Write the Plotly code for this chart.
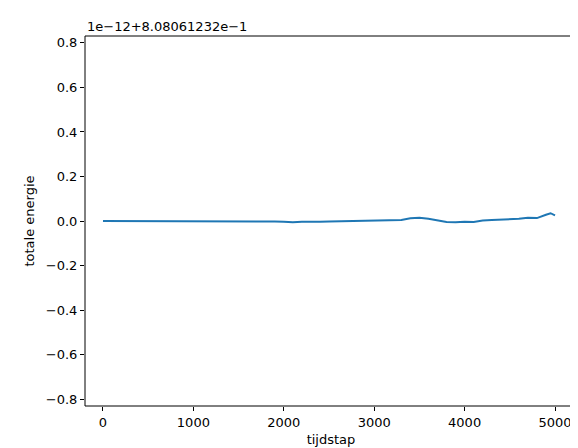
import plotly.graph_objects as go

# tijdstap samples and energy deviation (units of 1e-12 around 8.08061232e-1)
tijdstap = [0, 100, 200, 300, 400, 500, 600, 700, 800, 900, 1000, 1100, 1200, 1300, 1400,
            1500, 1600, 1700, 1800, 1900, 2000, 2100, 2200, 2300, 2400, 2500, 2600, 2700,
            2800, 2900, 3000, 3100, 3200, 3300, 3400, 3500, 3600, 3700, 3800, 3900, 4000,
            4100, 4200, 4300, 4400, 4500, 4600, 4700, 4800, 4900, 4950, 5000]
energie = [0.0, 0.0, 0.0, 0.0, 0.001, 0.0, 0.0, 0.0, 0.001, 0.0, 0.0, 0.0, -0.001, 0.0,
           0.0, -0.001, 0.0, 0.0, -0.001, -0.002, -0.003, -0.006, -0.003, -0.004, -0.003,
           -0.002, -0.001, 0.001, 0.003, 0.004, 0.005, 0.004, 0.006, 0.005, 0.012, 0.015,
           0.01, 0.004, -0.004, -0.006, -0.003, -0.004, 0.002, 0.004, 0.006, 0.005, 0.01,
           0.015, 0.013, 0.028, 0.035, 0.025]

fig = go.Figure(go.Scatter(x=tijdstap, y=energie, mode="lines",
                           line=dict(color="#1f77b4", width=2)))

axis_style = dict(showline=False, ticks="outside", ticklen=4, tickcolor="black",
                  showgrid=False, zeroline=False, automargin=False,
                  tickfont=dict(size=13, color="black"))

fig.update_layout(
    width=578, height=448, plot_bgcolor="white", paper_bgcolor="white",
    margin=dict(l=77, r=9, t=28, b=50), showlegend=False,
    font=dict(family="DejaVu Sans", size=13, color="black"),
    xaxis=dict(range=[-199, 5243], tickvals=[0, 1000, 2000, 3000, 4000, 5000],
               title=dict(text="tijdstap", standoff=6, font=dict(size=13)), **axis_style),
    yaxis=dict(range=[-0.831, 0.831],
               tickvals=[-0.8, -0.6, -0.4, -0.2, 0.0, 0.2, 0.4, 0.6, 0.8],
               tickformat=".1f", title=dict(text="totale energie", standoff=8, font=dict(size=13)),
               **axis_style),
    shapes=[dict(type="rect", xref="paper", yref="paper", x0=0, y0=0, x1=1, y1=1,
                 line=dict(color="black", width=1))],
    annotations=[dict(text="1e\u221212+8.08061232e\u22121", xref="paper", yref="paper",
                      x=0, y=1, xanchor="left", yanchor="bottom", showarrow=False,
                      font=dict(size=13))],
)

fig.write_html("out.html")
